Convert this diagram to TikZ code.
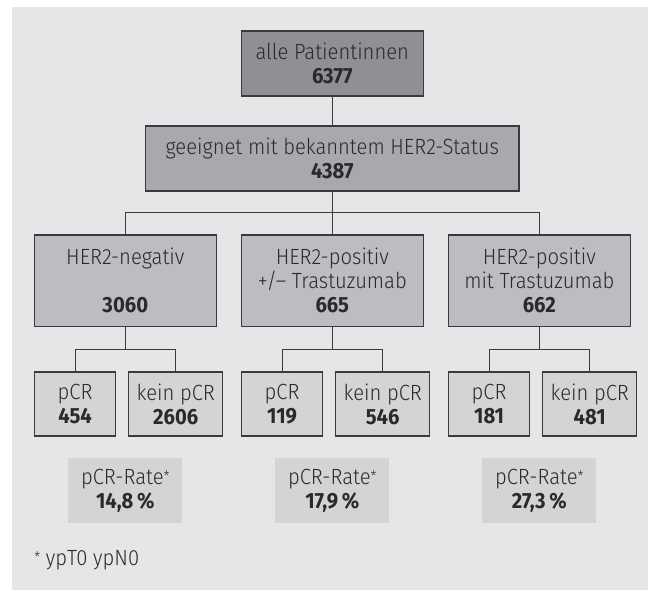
\documentclass[tikz,border=0pt]{standalone}
\usepackage{fontspec}
\setmainfont{Fira Sans}[UprightFont={* Light}, BoldFont={* Bold}, FakeStretch=0.92]
\usetikzlibrary{calc}
\definecolor{panel}{HTML}{E5E6E8}
\definecolor{linec}{HTML}{3A3A3C}
\definecolor{textc}{HTML}{2A2A2C}
\definecolor{cA}{HTML}{8F9093}
\definecolor{cB}{HTML}{A8A9AC}
\definecolor{cC}{HTML}{BCBDC0}
\definecolor{cD}{HTML}{D3D4D6}
\newcommand\myast{{\fontsize{11}{11}\selectfont\raisebox{0.35ex}{*}}}
\begin{document}
\begin{tikzpicture}[x=0.75pt,y=-0.75pt,
  box/.style={draw=linec, line width=0.9pt, text=textc, align=center, inner sep=0pt,
    font=\fontsize{16.5}{18}\selectfont},
  ratebox/.style={fill=cD, text=textc, align=center, inner sep=0pt,
    minimum width=114*0.75pt, minimum height=64.4*0.75pt,
    font=\fontsize{16.5}{18}\selectfont},
  conn/.style={draw=linec, line width=0.8pt}]
\useasboundingbox (0,0) rectangle (648,590);
\fill[panel] (12,7) rectangle (648,590);
% top
\node[box, fill=cA, minimum width=181.7*0.75pt, minimum height=65*0.75pt] (all) at (332.3,63.5)
  {alle Patientinnen\\\textbf{6377}};
\node[box, fill=cB, minimum width=373.5*0.75pt, minimum height=65*0.75pt] (her) at (332.3,158.5)
  {geeignet mit bekanntem HER2-Status\\\textbf{4387}};
% groups
\node[box, fill=cC, minimum width=182*0.75pt, minimum height=91.5*0.75pt] (g1) at (125.3,280.7)
  {HER2-negativ\\\mbox{}\\\textbf{3060}};
\node[box, fill=cC, minimum width=182*0.75pt, minimum height=91.5*0.75pt] (g2) at (332.3,280.7)
  {HER2-positiv\\+/– Trastuzumab\\\textbf{665}};
\node[box, fill=cC, minimum width=182*0.75pt, minimum height=91.5*0.75pt] (g3) at (539.3,280.7)
  {HER2-positiv\\mit Trastuzumab\\\textbf{662}};
% sub boxes
\node[box, fill=cD, minimum width=81.5*0.75pt, minimum height=64*0.75pt] (p1) at (75.1,404) {pCR\\\textbf{454}};
\node[box, fill=cD, minimum width=93.8*0.75pt, minimum height=64*0.75pt] (k1) at (175.7,404) {kein pCR\\\textbf{2606}};
\node[box, fill=cD, minimum width=81.5*0.75pt, minimum height=64*0.75pt] (p2) at (282.1,404) {pCR\\\textbf{119}};
\node[box, fill=cD, minimum width=93.8*0.75pt, minimum height=64*0.75pt] (k2) at (382.7,404) {kein pCR\\\textbf{546}};
\node[box, fill=cD, minimum width=81.5*0.75pt, minimum height=64*0.75pt] (p3) at (489.1,404) {pCR\\\textbf{181}};
\node[box, fill=cD, minimum width=93.8*0.75pt, minimum height=64*0.75pt] (k3) at (589.7,404) {kein pCR\\\textbf{481}};
% rate boxes
\node[ratebox] (r1) at (125.3,490.5) {pCR-Rate\myast\\\textbf{14,8\,\%}};
\node[ratebox] (r2) at (332.3,490.5) {pCR-Rate\myast\\\textbf{17,9\,\%}};
\node[ratebox] (r3) at (539.3,490.5) {pCR-Rate\myast\\\textbf{27,3\,\%}};
% footnote
\node[anchor=west, text=textc, inner sep=0pt, font=\fontsize{16.5}{18}\selectfont] (fn) at (34,560) {\myast\ ypT0 ypN0};
% connectors
\coordinate (bar) at (332.3,212.7);
\draw[conn] (all.south) -- (her.north);
\draw[conn] (her.south) -- (g2.north);
\draw[conn] (g1.north) -- (g1.north |- bar) -- (g3.north |- bar) -- (g3.north);
\foreach \i in {1,2,3}{
  \coordinate (s\i) at ($(g\i.south)+(0,22.3)$);
  \draw[conn] (g\i.south) -- (s\i);
  \draw[conn] (p\i.north) -- (p\i.north |- s\i) -- (k\i.north |- s\i) -- (k\i.north);
}
\end{tikzpicture}
\end{document}
